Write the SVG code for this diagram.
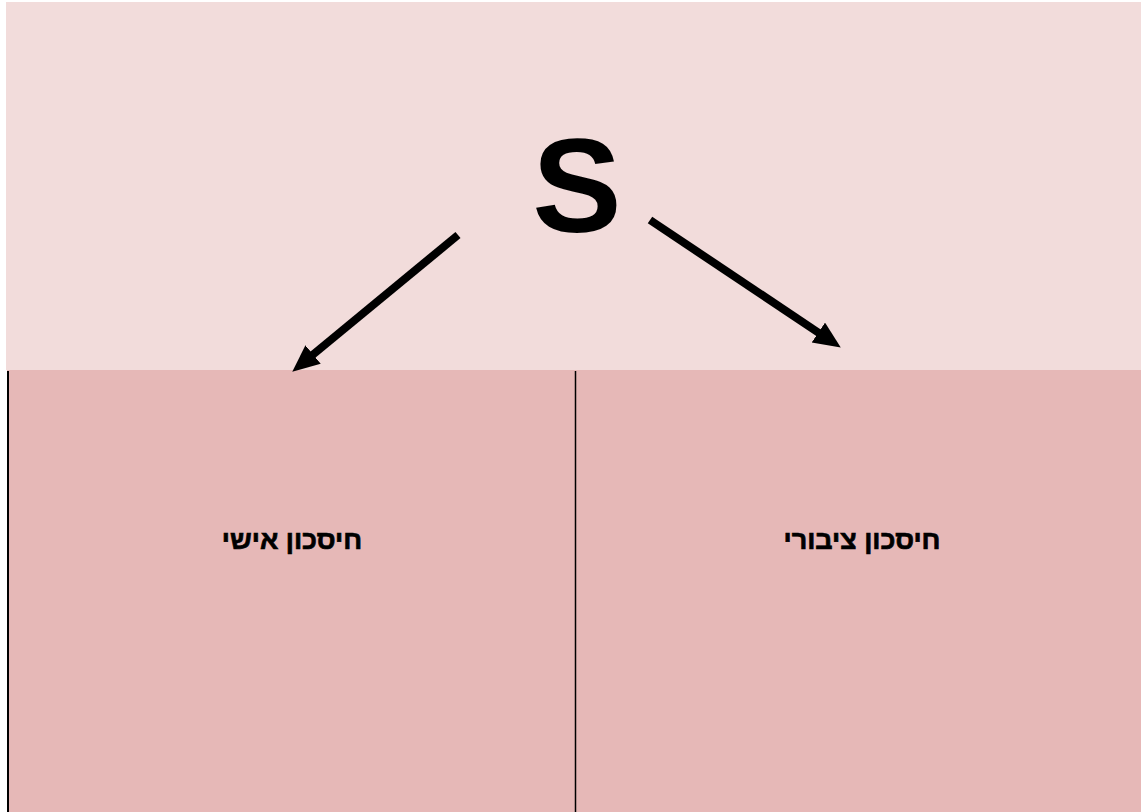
<svg xmlns="http://www.w3.org/2000/svg" width="1141" height="812" viewBox="0 0 1141 812">
  <style>
    .label { font-family: "Liberation Sans", Arial, "DejaVu Sans", sans-serif; font-weight: bold; fill: #000; text-anchor: middle; }
    .heb { stroke: #000; stroke-width: 0.7; }
    .conn { stroke: #000; stroke-width: 8; fill: none; marker-end: url(#head); }
    .divider { stroke: #000; }
  </style>
  <defs>
    <marker id="head" markerUnits="userSpaceOnUse" markerWidth="28" markerHeight="25" refX="11" refY="12" orient="auto">
      <path d="M0,0 L27,12 L0,24 z" fill="#000"/>
    </marker>
  </defs>
  <rect x="0" y="0" width="1141" height="812" fill="#ffffff"/>
  <g id="top">
    <rect x="6" y="2" width="1135" height="368" fill="#F2DCDB"/>
    <text class="label" x="577" y="232" font-size="134">S</text>
  </g>
  <g id="personal">
    <rect x="7" y="370" width="568" height="442" fill="#E6B8B7"/>
    <line class="divider" x1="8" y1="371" x2="8" y2="812" stroke-width="2"/>
    <text class="label heb" x="292" y="549" font-size="27" direction="rtl" unicode-bidi="embed">חיסכון אישי</text>
  </g>
  <g id="public">
    <rect x="575" y="370" width="566" height="442" fill="#E6B8B7"/>
    <line class="divider" x1="575.5" y1="371" x2="575.5" y2="812" stroke-width="1.5"/>
    <text class="label heb" x="862" y="549" font-size="27" direction="rtl" unicode-bidi="embed">חיסכון ציבורי</text>
  </g>
  <g id="connectors">
    <line class="conn" x1="458" y1="235" x2="304.6" y2="361.5"/>
    <line class="conn" x1="650" y1="220" x2="827.5" y2="338.7"/>
  </g>
</svg>
